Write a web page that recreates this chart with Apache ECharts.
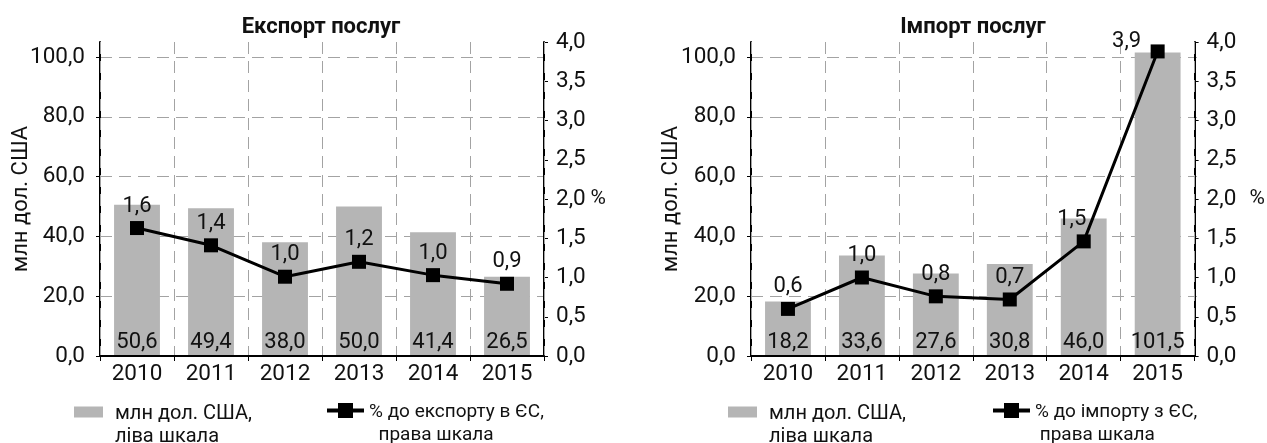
<!DOCTYPE html>
<html><head><meta charset="utf-8">
<script src="https://cdn.jsdelivr.net/npm/echarts@6/dist/echarts.min.js"></script>
<style>html,body{margin:0;padding:0;background:#fff}#c{width:1267px;height:443px}</style>
</head><body><div id="c"></div>
<script>
// ---- data ----
const years = ['2010', '2011', '2012', '2013', '2014', '2015'];
const exportUsd = [50.6, 49.4, 38.0, 50.0, 41.4, 26.5];
const exportPct = [1.63, 1.41, 1.01, 1.20, 1.03, 0.92];
const importUsd = [18.2, 33.6, 27.6, 30.8, 46.0, 101.5];
const importPct = [0.60, 1.00, 0.76, 0.72, 1.46, 3.88];
const titles = ['Експорт послуг', 'Імпорт послуг'];
const leftAxisName = 'млн дол. США';
const rightAxisName = '%';
const barLegend = ['млн дол. США,', 'ліва шкала'];
const lineLegendExp = ['% до експорту в ЄС,', 'права шкала'];
const lineLegendImp = ['% до імпорту з ЄС,', 'права шкала'];

// ---- styling / layout ----
const FONT = 'Roboto';
const TXT = '#111';
const BAR = '#b5b5b5';
const GRIDC = '#a3a3a3';
const TICK_FS = 22.5;
const fmt = v => Number(v).toFixed(1).replace('.', ',');
const importLabelShift = {4: [-12, 0], 5: [-31, 12]};

// legend icons (include invisible corner points so the icon box keeps its size)
const barIcon = 'path://M0,0L0.01,0L0,0.01Z M0,4.5L29,4.5L29,15.5L0,15.5Z M35.99,46L36,46L36,45.99Z';
const lineIcon = 'path://M0,0L0.01,0L0,0.01Z M0,7.5L37,7.5L37,11.5L0,11.5Z M11,2L26,2L26,17L11,17Z M36.99,46L37,46L37,45.99Z';

const ts = (o) => Object.assign({fontFamily: FONT, color: TXT}, o);

function mainX(gi) {
  return {
    type: 'category', gridIndex: gi, data: years, boundaryGap: true, z: 3,
    axisLine: {show: true, lineStyle: {color: '#000', width: 2}},
    axisTick: {show: true, alignWithLabel: false, length: 5, lineStyle: {color: '#000', width: 1}},
    axisLabel: ts({fontSize: TICK_FS, margin: 7}),
    splitLine: {show: true, lineStyle: {color: GRIDC, type: [12, 7], width: 1}}
  };
}
function hiddenX(gi) {
  return {type: 'category', gridIndex: gi, data: years, show: false};
}
function leftY(gi, gap) {
  return {
    type: 'value', gridIndex: gi, position: 'left', min: 0, max: 105,
    axisLine: {show: true, lineStyle: {color: '#000', width: 2}},
    axisTick: {show: false}, axisLabel: {show: false}, splitLine: {show: false},
    name: leftAxisName, nameLocation: 'middle', nameGap: gap,
    nameTextStyle: ts({fontSize: 22})
  };
}
function rightY(gi, gap) {
  return {
    type: 'value', gridIndex: gi, position: 'right', min: 0, max: 4, interval: 0.5,
    axisLine: {show: true, lineStyle: {color: '#000', width: 2}},
    axisTick: {show: true, length: 4, lineStyle: {color: '#000'}},
    axisLabel: ts({fontSize: TICK_FS, margin: 12, formatter: fmt}),
    splitLine: {show: false},
    name: rightAxisName, nameLocation: 'middle', nameGap: gap, nameRotate: 0,
    nameTextStyle: ts({fontSize: 21, align: 'left'})
  };
}
function gridY(gi) {
  return {
    type: 'value', gridIndex: gi, position: 'left', min: 0, max: 100, interval: 20,
    axisLine: {show: false},
    axisTick: {show: true, length: 4, lineStyle: {color: '#000'}},
    axisLabel: ts({fontSize: TICK_FS, margin: 15, formatter: fmt}),
    splitLine: {show: true, lineStyle: {color: GRIDC, type: [12, 7], width: 1}}
  };
}

function barSeries(name, xi, yi, vals) {
  return {
    type: 'bar', name: name, xAxisIndex: xi, yAxisIndex: yi, data: vals,
    barWidth: '62%', itemStyle: {color: BAR}, z: 2,
    label: {show: true, position: 'insideBottom', distance: 3,
      formatter: p => fmt(p.value), fontFamily: FONT, fontSize: 22, color: TXT}
  };
}
function lineSeries(name, xi, yi, vals, shifts) {
  return {
    type: 'line', name: name, xAxisIndex: xi, yAxisIndex: yi,
    data: vals.map((v, i) => shifts && shifts[i] ? {value: v, label: {offset: shifts[i]}} : v),
    symbol: 'rect', symbolSize: 14, z: 5,
    lineStyle: {color: '#000', width: 3}, itemStyle: {color: '#000'},
    label: {show: true, position: 'top', distance: 4,
      formatter: p => fmt(p.value), fontFamily: FONT, fontSize: 22, color: TXT}
  };
}

function legend(name, left, top, isBar, lines, fs) {
  return {
    data: [name], left: left, top: top, padding: 0, selectedMode: false,
    itemWidth: isBar ? 36 : 37, itemHeight: 46,
    icon: isBar ? barIcon : lineIcon,
    formatter: () => lines[0] + '\n' + lines[1],
    textStyle: ts({fontSize: fs, lineHeight: 23})
  };
}

const nameBarE = barLegend.join(' ');
const nameBarI = barLegend.join(' ') + ' ';
const nameLineE = lineLegendExp.join(' ');
const nameLineI = lineLegendImp.join(' ');

const option = {
  animation: false,
  backgroundColor: '#fff',
  textStyle: {fontFamily: FONT},
  title: [
    {text: titles[0], left: 316, top: 11, textAlign: 'center', textStyle: ts({fontSize: 22, fontWeight: 'bold'})},
    {text: titles[1], left: 968, top: 11, textAlign: 'center', textStyle: ts({fontSize: 22, fontWeight: 'bold'})}
  ],
  grid: [
    {left: 100, width: 444, top: 42, height: 314},
    {left: 751, width: 446, top: 42, height: 314},
    {left: 100, width: 444, top: 57, height: 299},
    {left: 751, width: 446, top: 57, height: 299}
  ],
  xAxis: [mainX(0), mainX(1), hiddenX(2), hiddenX(3)],
  yAxis: [leftY(0, 68), rightY(0, 46), leftY(1, 69), rightY(1, 55), gridY(2), gridY(3)],
  legend: [
    legend(nameBarE, 74, 402, true, barLegend, 20),
    legend(nameLineE, 327, 401, false, [lineLegendExp[0], '  ' + lineLegendExp[1]], 19),
    legend(nameBarI, 728, 402, true, barLegend, 20),
    legend(nameLineI, 993, 401, false, [lineLegendImp[0], ' ' + lineLegendImp[1]], 19)
  ],
  series: [
    barSeries(nameBarE, 0, 0, exportUsd),
    lineSeries(nameLineE, 0, 1, exportPct, null),
    barSeries(nameBarI, 1, 2, importUsd),
    lineSeries(nameLineI, 1, 3, importPct, importLabelShift)
  ]
};
const chart = echarts.init(document.getElementById('c'), null, {renderer: 'canvas'});
chart.setOption(option);
</script></body></html>
